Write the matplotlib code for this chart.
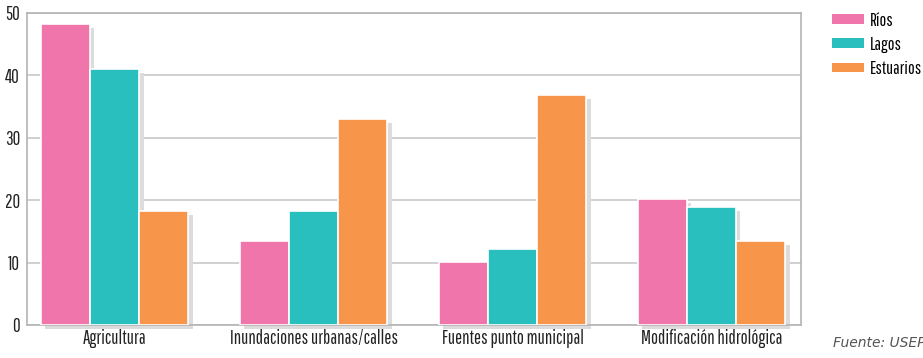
import numpy as np
import matplotlib.pyplot as plt
from matplotlib.patches import Patch

categorias = ['Agricultura', 'Inundaciones urbanas/calles', 'Fuentes punto municipal', 'Modificación hidrológica']
series = ['Ríos', 'Lagos', 'Estuarios']
rios = [48.2, 13.5, 10.1, 20.2]
lagos = [41.0, 18.3, 12.2, 18.9]
estuarios = [18.3, 33.0, 36.9, 13.5]
colores = ['#F075AA', '#2ABFBF', '#F7964A']
yticks = [0, 10, 20, 30, 40, 50]

plt.rcParams['font.family'] = ['Pathway Gothic One', 'DejaVu Sans']

fig = plt.figure(figsize=(9.23, 3.58), dpi=100)
ax = fig.add_axes([0.0293, 0.0922, 0.8386, 0.8715])

x = np.arange(len(categorias))
w = 0.247
dx = 0.022
dy = 0.65

for i, vals in enumerate([rios, lagos, estuarios]):
    pos = x + (i - 1) * w
    # sombra
    ax.bar(pos + dx, vals, w, bottom=-dy, color='#dcdcdc', zorder=2, clip_on=False)
for i, vals in enumerate([rios, lagos, estuarios]):
    pos = x + (i - 1) * w
    ax.bar(pos, vals, w, color=colores[i], edgecolor='white', linewidth=1.2, zorder=3)

ax.set_xlim(-0.44, 3.45)
ax.set_ylim(0, 50)
ax.set_yticks(yticks)
ax.set_xticks(x)
ax.set_xticklabels(categorias, fontsize=13.5, color='#222222')
ax.tick_params(axis='y', labelsize=13.5, labelcolor='#222222', length=0, pad=5)
ax.tick_params(axis='x', length=0, pad=3)
ax.grid(axis='y', color='#c8c8c8', linewidth=1.2, zorder=0)
for s in ax.spines.values():
    s.set_color('#b4b4b4')
    s.set_linewidth(1.2)

handles = [Patch(facecolor=c, label=s) for c, s in zip(colores, series)]
fig.legend(handles=handles, loc='upper left', bbox_to_anchor=(0.888, 1.0),
           frameon=False, fontsize=13, handlelength=1.75, handleheight=0.45,
           handletextpad=0.35, labelspacing=0.45, borderaxespad=0.3)

fig.text(0.903, 0.03, 'Fuente: USEPA', fontsize=10, style='italic',
         color='#555555', family='DejaVu Sans')

fig.savefig('out.png', dpi=100)
